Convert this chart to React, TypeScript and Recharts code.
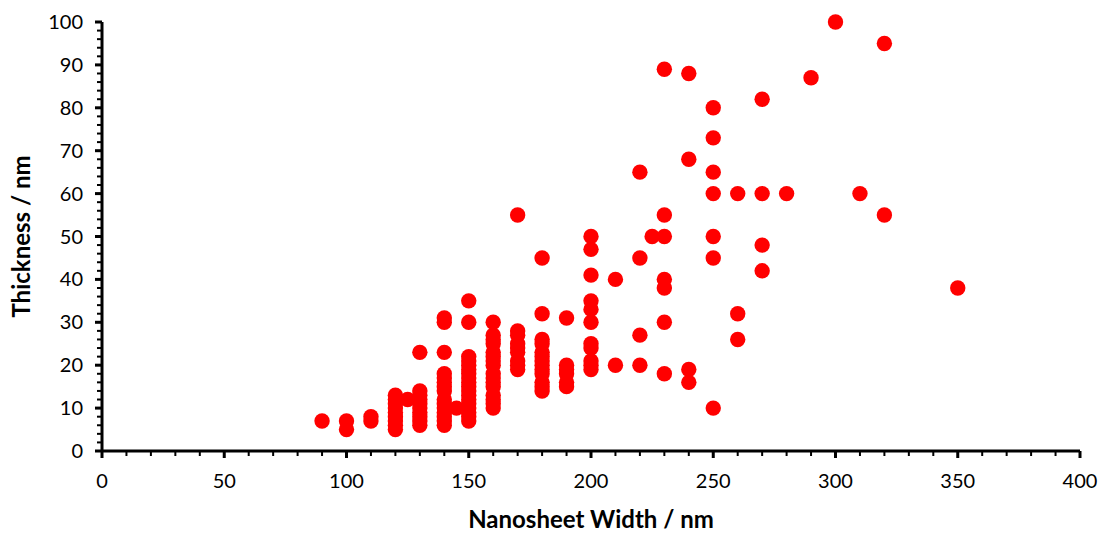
import React from "react";
import { ScatterChart, Scatter, XAxis, YAxis } from "recharts";

// Nanosheet width (nm) for each measured sheet
const widths: number[] = [
  90,
  100, 100,
  110, 110,
  120, 120, 120, 120, 120, 120, 120, 120, 120,
  125,
  130, 130, 130, 130, 130, 130, 130, 130, 130, 130,
  140, 140, 140, 140, 140, 140, 140, 140, 140, 140, 140, 140, 140, 140, 140,
  145,
  150, 150, 150, 150, 150, 150, 150, 150, 150, 150, 150, 150, 150, 150, 150, 150, 150, 150,
  160, 160, 160, 160, 160, 160, 160, 160, 160, 160, 160, 160, 160, 160, 160, 160,
  170, 170, 170, 170, 170, 170, 170, 170, 170,
  180, 180, 180, 180, 180, 180, 180, 180, 180, 180, 180, 180, 180,
  190, 190, 190, 190, 190, 190,
  200, 200, 200, 200, 200, 200, 200, 200, 200, 200, 200,
  210, 210,
  220, 220, 220, 220,
  225,
  230, 230, 230, 230, 230, 230, 230,
  240, 240, 240, 240,
  250, 250, 250, 250, 250, 250, 250,
  260, 260, 260,
  270, 270, 270, 270,
  280,
  290,
  300,
  310,
  320, 320,
  350,
];

// Matching thickness (nm) for each sheet
const thicknesses: number[] = [
  7,
  7, 5,
  8, 7,
  13, 12, 11, 10, 9, 8, 7, 6, 5,
  12,
  23, 14, 13, 12, 11, 10, 9, 8, 7, 6,
  31, 30, 23, 18, 17, 16, 15, 14, 12, 11, 10, 9, 8, 7, 6,
  10,
  35, 30, 22, 21, 20, 19, 18, 17, 16, 15, 14, 13, 12, 11, 10, 9, 8, 7,
  30, 27, 26, 25, 23, 22, 21, 20, 18, 17, 16, 15, 13, 12, 11, 10,
  55, 28, 27, 25, 24, 23, 21, 20, 19,
  45, 32, 26, 25, 23, 22, 21, 20, 19, 18, 16, 15, 14,
  31, 20, 19, 18, 16, 15,
  50, 47, 41, 35, 33, 30, 25, 24, 21, 20, 19,
  40, 20,
  65, 45, 27, 20,
  50,
  89, 55, 50, 40, 38, 30, 18,
  88, 68, 19, 16,
  80, 73, 65, 60, 50, 45, 10,
  60, 32, 26,
  82, 60, 48, 42,
  60,
  87,
  100,
  60,
  95, 55,
  38,
];

const xTicks: number[] = [
  0, 10, 20, 30, 40, 50, 60, 70, 80, 90, 100, 110, 120, 130, 140, 150, 160, 170, 180, 190, 200,
  210, 220, 230, 240, 250, 260, 270, 280, 290, 300, 310, 320, 330, 340, 350, 360, 370, 380, 390, 400,
];
const xMajorTicks: number[] = [0, 50, 100, 150, 200, 250, 300, 350, 400];

const yTicks: number[] = [
  0, 2, 4, 6, 8, 10, 12, 14, 16, 18, 20, 22, 24, 26, 28, 30, 32, 34, 36, 38, 40, 42, 44, 46, 48, 50,
  52, 54, 56, 58, 60, 62, 64, 66, 68, 70, 72, 74, 76, 78, 80, 82, 84, 86, 88, 90, 92, 94, 96, 98, 100,
];
const yMajorTicks: number[] = [0, 10, 20, 30, 40, 50, 60, 70, 80, 90, 100];

const data = widths.map((w, i) => ({ width: w, thickness: thicknesses[i] }));

const FONT = "Lato, 'Open Sans', sans-serif";

const XTick = (props: any) => {
  const { x, y, payload } = props;
  const major = xMajorTicks.includes(payload.value);
  return (
    <g>
      <line x1={x} x2={x} y1={y} y2={y + (major ? 7 : 5)} stroke="#000" strokeWidth={major ? 3 : 2} />
      {major && (
        <text x={x} y={y + 30} dy="0.35em" textAnchor="middle" fontSize={20} fontFamily={FONT} fill="#000">
          {payload.value}
        </text>
      )}
    </g>
  );
};

const YTick = (props: any) => {
  const { x, y, payload } = props;
  const major = yMajorTicks.includes(payload.value);
  return (
    <g>
      <line x1={x} x2={x - (major ? 7 : 5)} y1={y} y2={y} stroke="#000" strokeWidth={major ? 3 : 2} />
      {major && (
        <text x={x - 19} y={y} dy="0.35em" textAnchor="end" fontSize={20} fontFamily={FONT} fill="#000">
          {payload.value}
        </text>
      )}
    </g>
  );
};

const Dot = (props: any) => {
  const { cx, cy } = props;
  if (cx == null || cy == null) return null;
  return <circle cx={cx} cy={cy} r={7.7} fill="#FF0000" />;
};

export default function App() {
  return (
    <div style={{ position: "fixed", left: 0, top: 0, width: 1100, height: 533, background: "#fff" }}>
      <ScatterChart width={1100} height={533} margin={{ top: 22, right: 20, bottom: 2, left: 12 }}>
        <XAxis
          type="number"
          dataKey="width"
          domain={[0, 400]}
          ticks={xTicks}
          interval={0}
          tick={<XTick />}
          tickLine={false}
          tickSize={0}
          tickMargin={0}
          height={80}
          axisLine={{ stroke: "#000", strokeWidth: 3 }}
          label={{
            value: "Nanosheet Width / nm",
            position: "insideBottom",
            offset: 3,
            style: { fontFamily: FONT, fontSize: 24, fontWeight: 700, fill: "#000" },
          }}
        />
        <YAxis
          type="number"
          dataKey="thickness"
          domain={[0, 100]}
          ticks={yTicks}
          interval={0}
          tick={<YTick />}
          tickLine={false}
          tickSize={0}
          tickMargin={0}
          width={90}
          axisLine={{ stroke: "#000", strokeWidth: 3 }}
          label={{
            value: "Thickness / nm",
            angle: -90,
            position: "insideLeft",
            offset: 9,
            style: { fontFamily: FONT, fontSize: 24, fontWeight: 700, fill: "#000", textAnchor: "middle" },
          }}
        />
        <Scatter data={data} shape={<Dot />} isAnimationActive={false} />
      </ScatterChart>
    </div>
  );
}
